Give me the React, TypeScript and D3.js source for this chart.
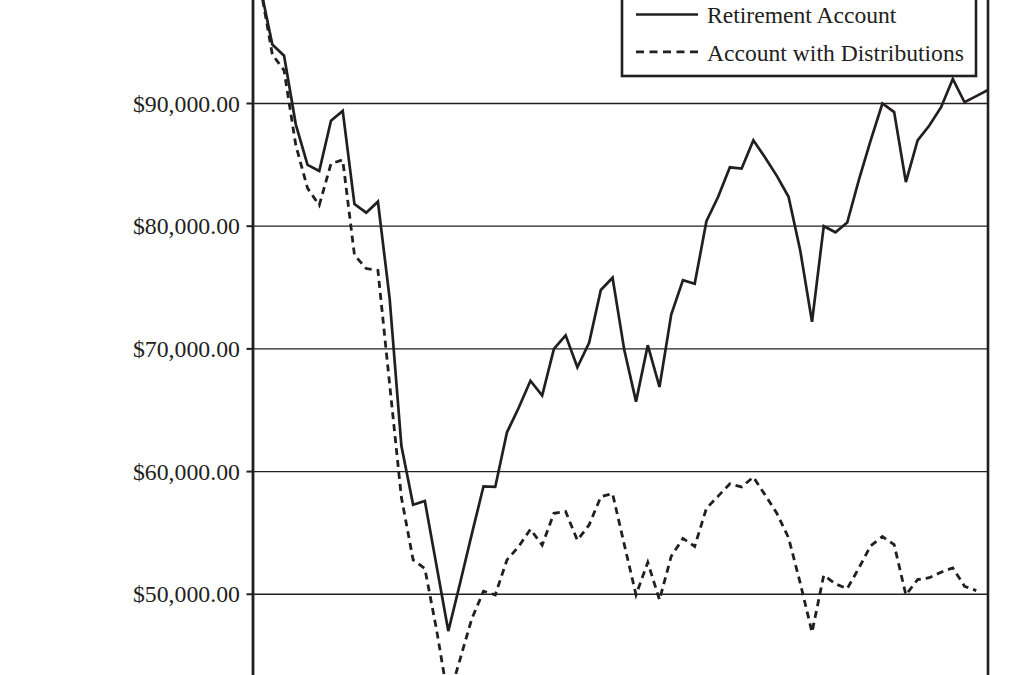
import React from "react";
import * as d3 from "d3";

const retirementAccount: number[] = [
  99400, 94800, 93900, 88300, 85000, 84500, 88600, 89400, 81800, 81100,
  82000, 74100, 62100, 57300, 57600, 52300, 47000, 50900, 54900, 58800,
  58750, 63200, 65200, 67400, 66200, 70000, 71100, 68500, 70500, 74800,
  75800, 69900, 65700, 70300, 66900, 72800, 75600, 75300, 80400, 82400,
  84800, 84700, 87000, 85600, 84100, 82400, 78000, 72200, 80000, 79500,
  80300, 83800, 87000, 90000, 89300, 83600, 87000, 88200, 89700, 92000,
  90100, 90600, 91100,
];

const accountWithDistributions: number[] = [
  99400, 94000, 92700, 86600, 83100, 81700, 85100, 85400, 77650, 76550,
  76400, 67100, 57900, 52800, 52100, 47100, 41400, 44700, 48000, 50250,
  49950, 52800, 53900, 55300, 54000, 56600, 56750, 54400, 55650, 57950,
  58200, 54050, 49950, 52600, 49550, 53100, 54550, 53900, 57000, 58000,
  59000, 58750, 59550, 58100, 56600, 54600, 50900, 46900, 51550, 50850,
  50450, 52150, 53950, 54700, 54050, 49950, 51200, 51350, 51800, 52150,
  50650, 50300,
];

const yTicks: number[] = [50000, 60000, 70000, 80000, 90000];
const seriesNames: string[] = ["Retirement Account", "Account with Distributions"];

const W = 1013;
const H = 675;
const plotLeft = 253;
const plotRight = 988;
const firstX = 260.6;
const serif = "'Liberation Serif', 'Times New Roman', serif";
const ink = "#231f20";

export default function App() {
  const x = d3.scaleLinear().domain([0, retirementAccount.length - 1]).range([firstX, plotRight]);
  const y = d3.scaleLinear().domain([43420, 98435]).range([H, 0]);
  const fmt = (v: number) => "$" + d3.format(",.2f")(v);

  const line = d3
    .line<number>()
    .x((_, i) => x(i))
    .y((d) => y(d));

  return (
    <svg
      width={W}
      height={H}
      style={{ position: "fixed", left: 0, top: 0, background: "#fff" }}
    >
      <rect x={0} y={0} width={W} height={H} fill="#fff" />
      <defs>
        <clipPath id="plotClip">
          <rect x={plotLeft} y={0} width={plotRight - plotLeft} height={H} />
        </clipPath>
      </defs>
      {yTicks.map((t) => (
        <g key={t}>
          <line x1={plotLeft} x2={plotRight} y1={y(t)} y2={y(t)} stroke={ink} strokeWidth={1.3} />
          <line x1={plotLeft - 6.5} x2={plotLeft} y1={y(t)} y2={y(t)} stroke={ink} strokeWidth={2} />
          <text
            x={240}
            y={y(t) + 8.2}
            textAnchor="end"
            fontFamily={serif}
            fontSize={23.8}
            fill={ink}
          >
            {fmt(t)}
          </text>
        </g>
      ))}
      <g clipPath="url(#plotClip)">
        <path
          d={line(accountWithDistributions) || ""}
          fill="none"
          stroke={ink}
          strokeWidth={2.8}
          strokeDasharray="7,5"
          strokeLinejoin="miter"
        />
        <path
          d={line(retirementAccount) || ""}
          fill="none"
          stroke={ink}
          strokeWidth={2.7}
          strokeLinejoin="miter"
        />
      </g>
      <line x1={plotLeft} x2={plotLeft} y1={0} y2={H} stroke={ink} strokeWidth={2.8} />
      <line x1={plotRight} x2={plotRight} y1={0} y2={H} stroke={ink} strokeWidth={2.6} />
      <g>
        <rect x={622} y={-10} width={354} height={86} fill="#fff" stroke={ink} strokeWidth={2.6} />
        <line x1={636} x2={698} y1={14.5} y2={14.5} stroke={ink} strokeWidth={2.6} />
        <text x={707} y={22.8} fontFamily={serif} fontSize={23.6} fill={ink}>
          {seriesNames[0]}
        </text>
        <line
          x1={636}
          x2={698}
          y1={51.8}
          y2={51.8}
          stroke={ink}
          strokeWidth={2.7}
          strokeDasharray="8,5.5"
        />
        <text x={707} y={60.5} fontFamily={serif} fontSize={23.6} fill={ink}>
          {seriesNames[1]}
        </text>
      </g>
    </svg>
  );
}
